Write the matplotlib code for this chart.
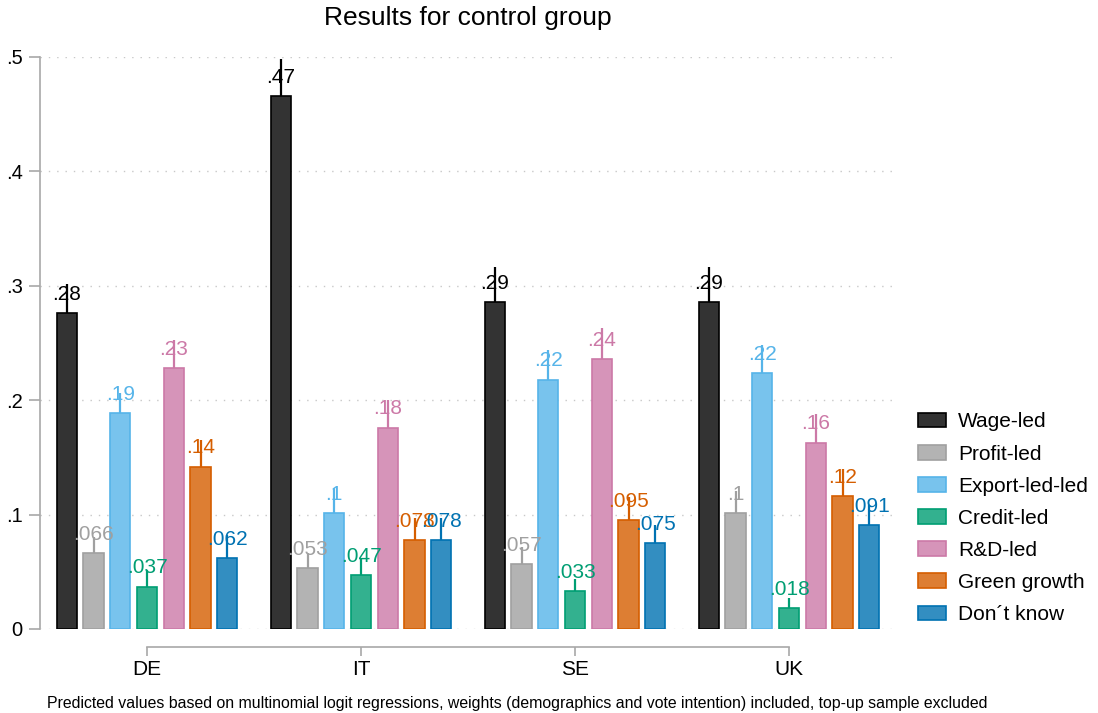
import matplotlib
matplotlib.use('Agg')
import matplotlib.pyplot as plt
from matplotlib.colors import to_rgb
from matplotlib.patches import Patch
import numpy as np

plt.rcParams['font.family'] = ['Liberation Sans', 'DejaVu Sans']

countries = ['DE', 'IT', 'SE', 'UK']
categories = ['Wage-led', 'Profit-led', 'Export-led-led', 'Credit-led',
              'R&D-led', 'Green growth', 'Don\u00b4t know']

# predicted shares per country (rows) and category (columns)
values = [
    [0.276, 0.066, 0.189, 0.037, 0.228, 0.142, 0.062],
    [0.466, 0.053, 0.101, 0.047, 0.176, 0.078, 0.078],
    [0.286, 0.057, 0.218, 0.033, 0.236, 0.095, 0.075],
    [0.286, 0.101, 0.224, 0.018, 0.163, 0.116, 0.091],
]
# upper CI bounds
upper = [
    [0.302, 0.080, 0.206, 0.052, 0.253, 0.165, 0.082],
    [0.498, 0.066, 0.123, 0.061, 0.200, 0.097, 0.097],
    [0.316, 0.072, 0.244, 0.044, 0.263, 0.115, 0.091],
    [0.316, 0.121, 0.248, 0.027, 0.188, 0.140, 0.108],
]

edge_colors = ['#000000', '#a0a0a0', '#56b4e9', '#009e73',
               '#cc79a7', '#d55e00', '#0072b2']


def _blend(c, a=0.8):
    r = np.array(to_rgb(c))
    return tuple(a * r + (1 - a) * np.ones(3))


def _fmt(v):
    s = '%.2g' % v
    return s[1:] if s.startswith('0.') else s


vals = np.array(values)
ups = np.array(upper)
lows = 2 * vals - ups

fig = plt.figure(figsize=(10.98, 7.13), dpi=100)
ax = fig.add_axes([40 / 1098, 1 - 629 / 713, 856 / 1098, 572 / 713])

step = 0.125
width = 0.0935
group_x = np.arange(len(countries))
for j, cat in enumerate(categories):
    xs = group_x + (j - 3) * step
    ec = edge_colors[j]
    ax.vlines(xs, lows[:, j], ups[:, j], color=ec, linewidth=1.6, zorder=2)
    ax.bar(xs, vals[:, j], width=width, color=_blend(ec), edgecolor=ec,
           linewidth=1.2, zorder=3)
    for x, v in zip(xs, vals[:, j]):
        ax.annotate(_fmt(v), (x, v), xytext=(0, 9.5), textcoords='offset points',
                    ha='center', va='baseline', fontsize=15, color=ec, zorder=5)

ax.set_xlim(-0.5, 3.5)
ax.set_ylim(0, 0.5)
for y in [0, 0.1, 0.2, 0.3, 0.4, 0.5]:
    ax.axhline(y, color='#c8c8c8', linewidth=1.0, linestyle=(0, (1, 5)), zorder=1)

for s in ['top', 'right']:
    ax.spines[s].set_visible(False)
ax.spines['left'].set_color('#a8a8a8')
ax.spines['left'].set_linewidth(1.2)
ax.spines['bottom'].set_color('#a8a8a8')
ax.spines['bottom'].set_linewidth(1.2)
ax.spines['bottom'].set_position(('outward', 13))
ax.spines['bottom'].set_bounds(0, 3)

ax.set_yticks([0, 0.1, 0.2, 0.3, 0.4, 0.5])
ax.set_yticklabels(['0', '.1', '.2', '.3', '.4', '.5'])
ax.set_xticks(group_x)
ax.set_xticklabels(countries)
ax.tick_params(axis='y', length=8, width=1.2, color='#a8a8a8', pad=4.5, labelsize=14.5)
ax.tick_params(axis='x', length=6.5, width=1.2, color='#a8a8a8', pad=3, labelsize=15)

ax.set_title('Results for control group', fontsize=19, pad=23)

handles = [Patch(facecolor=_blend(c), edgecolor=c, linewidth=1.2) for c in edge_colors]
fig.legend(handles, categories, loc='upper left', bbox_to_anchor=(908 / 1098, 1 - 402 / 713),
           frameon=False, fontsize=15, handlelength=1.3, handleheight=0.7,
           labelspacing=0.63, handletextpad=0.6, borderpad=0)

fig.text(517 / 1098, 1 - 708 / 713,
         'Predicted values based on multinomial logit regressions, weights (demographics and vote intention) included, top-up sample excluded',
         ha='center', va='baseline', fontsize=11.4)

fig.savefig('out.png', dpi=100)
